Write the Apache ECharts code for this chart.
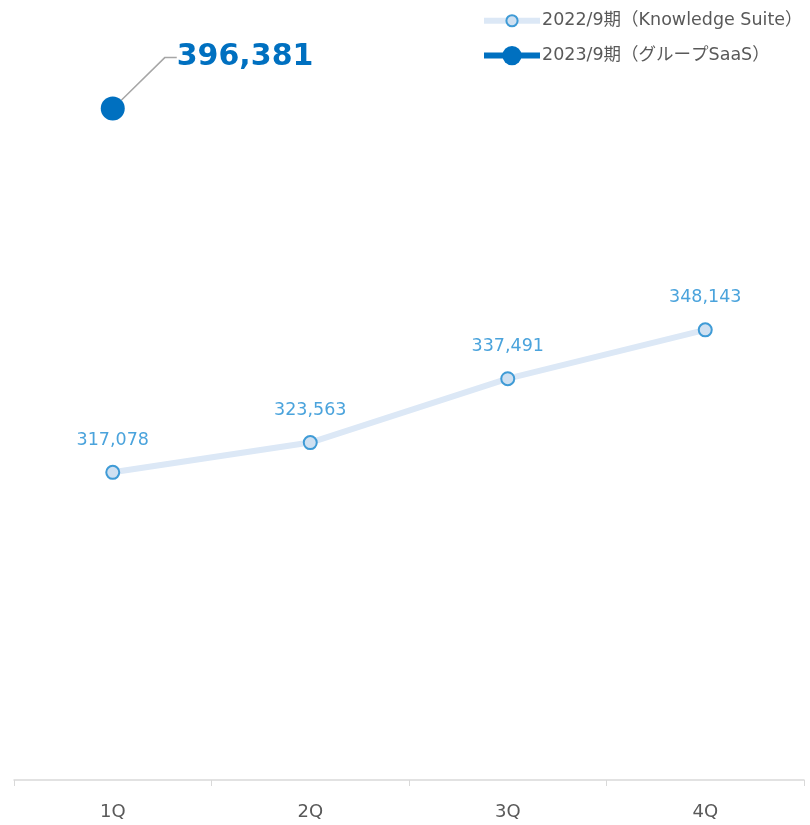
<!DOCTYPE html>
<html><head><meta charset="utf-8">
<script src="https://cdn.jsdelivr.net/npm/echarts@6/dist/echarts.min.js"></script>
<style>html,body{margin:0;padding:0;background:#fff}#c{width:810px;height:825px}</style>
</head><body><div id="c"></div>
<script>
const categories = ['1Q', '2Q', '3Q', '4Q'];
const series2022Name = '2022/9期（Knowledge Suite）';
const series2023Name = '2023/9期（グループSaaS）';
const values2022 = [317078, 323563, 337491, 348143];
const values2023 = [396381, null, null, null];

const font = '"DejaVu Sans", Verdana, "Noto Sans CJK JP", sans-serif';
const legendText = { fontSize: 17.5, color: '#595959', fontFamily: font, padding: [0, 0, 0, -3] };
const chart = echarts.init(document.getElementById('c'));
chart.setOption({
  animation: false,
  textStyle: { fontFamily: font },
  legend: [
    {
      orient: 'vertical', left: 476, top: 7, itemWidth: 56, itemHeight: 14,
      textStyle: legendText,
      data: [{ name: series2022Name, lineStyle: { width: 6, color: '#dce8f6' } }]
    },
    {
      orient: 'vertical', left: 476, top: 41, itemWidth: 56, itemHeight: 24,
      textStyle: legendText,
      data: [{ name: series2023Name, lineStyle: { width: 6, color: '#0070c0' } }]
    }
  ],
  grid: { left: 14, right: 6, top: 92, bottom: 45 },
  xAxis: {
    type: 'category', data: categories, boundaryGap: true,
    axisLine: { lineStyle: { color: '#d9d9d9', width: 1.5 } },
    axisTick: { show: true, length: 6, lineStyle: { color: '#d9d9d9' } },
    axisLabel: { fontSize: 18, color: '#595959', margin: 23, fontFamily: font }
  },
  yAxis: { type: 'value', min: 250000, max: 400000, show: false, splitLine: { show: false } },
  series: [
    {
      name: series2022Name, type: 'line', data: values2022,
      symbol: 'circle', symbolSize: 13,
      lineStyle: { color: '#dce8f6', width: 6 },
      itemStyle: { color: '#cfe0f1', borderColor: '#3f9bd6', borderWidth: 2 },
      label: {
        show: true, position: 'top', distance: 16, fontSize: 17.5, color: '#4aa3dc',
        fontFamily: font,
        formatter: p => p.value.toLocaleString('en-US')
      },
      z: 2
    },
    {
      name: series2023Name, type: 'line', data: values2023,
      symbol: 'circle', symbolSize: 24,
      lineStyle: { color: '#0070c0', width: 6 },
      itemStyle: { color: '#0070c0' },
      label: {
        show: true, position: 'right', distance: 0, fontSize: 30, fontWeight: 'bold',
        color: '#0070c0', fontFamily: font,
        formatter: p => p.value == null ? '' : p.value.toLocaleString('en-US')
      },
      labelLayout: { dx: 52, dy: -51 },
      labelLine: { show: true, length2: 12, lineStyle: { color: '#a6a6a6', width: 1.5 } },
      z: 3
    }
  ]
});
</script></body></html>
